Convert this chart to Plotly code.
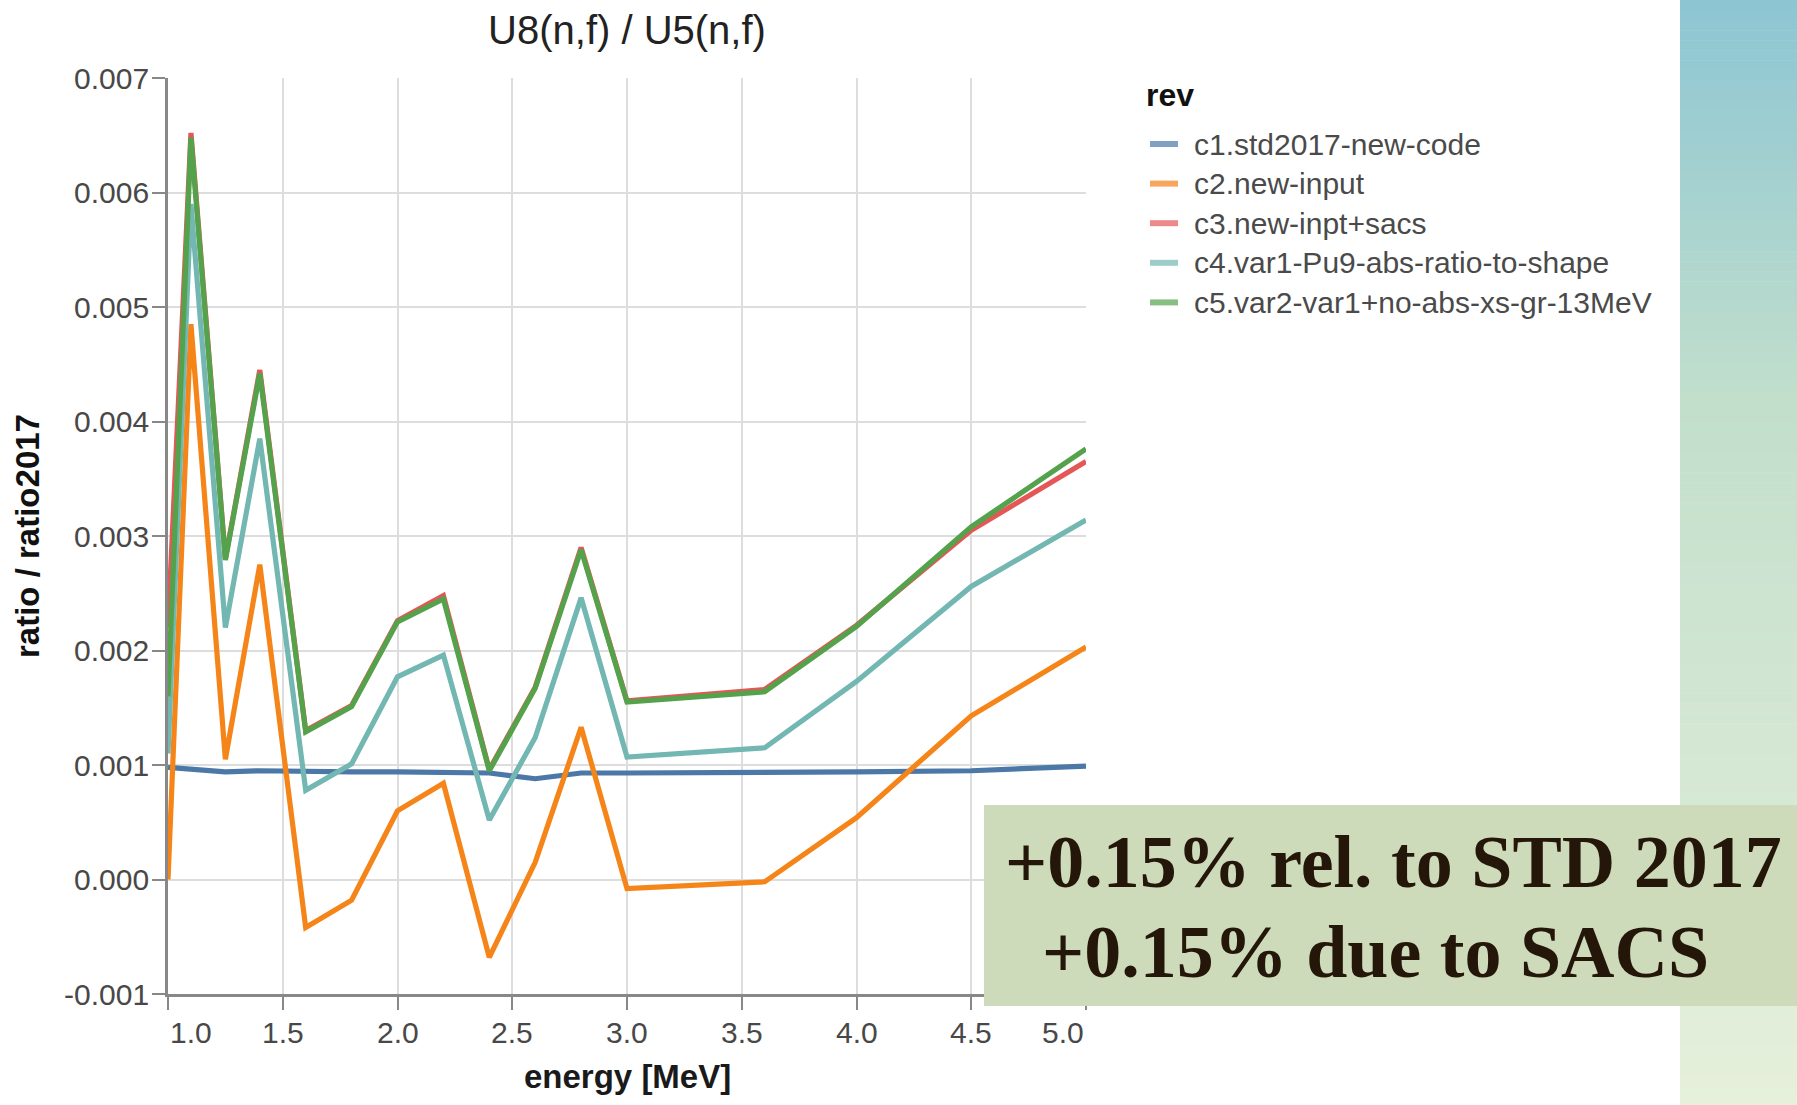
import plotly.graph_objects as go

# ---------------- data ----------------
energy = [1.0, 1.1, 1.25, 1.4, 1.6, 1.8, 2.0, 2.2, 2.4, 2.6, 2.8, 3.0, 3.6, 4.0, 4.5, 5.0]

series_names = [
    "c1.std2017-new-code",
    "c2.new-input",
    "c3.new-inpt+sacs",
    "c4.var1-Pu9-abs-ratio-to-shape",
    "c5.var2-var1+no-abs-xs-gr-13MeV",
]

c1_std2017 = [0.00098, 0.00096, 0.00094, 0.00095, 0.00094, 0.00094, 0.00094, 0.00094,
              0.00093, 0.00088, 0.00093, 0.00093, 0.00093, 0.00094, 0.00095, 0.00099]
c2_new_input = [0.00000, 0.00485, 0.00105, 0.00275, -0.00042, -0.00018, 0.00060, 0.00084,
                -0.00068, 0.00015, 0.00133, -0.00008, -0.00002, 0.00054, 0.00143, 0.00203]
c3_new_inpt_sacs = [0.00220, 0.00652, 0.00280, 0.00445, 0.00130, 0.00152, 0.00226, 0.00248,
                    0.00096, 0.00168, 0.00290, 0.00156, 0.00166, 0.00222, 0.00305, 0.00365]
c4_var1 = [0.00110, 0.00590, 0.00220, 0.00385, 0.00078, 0.00101, 0.00177, 0.00196,
           0.00052, 0.00124, 0.00246, 0.00107, 0.00115, 0.00173, 0.00256, 0.00314]
c5_var2 = [0.00160, 0.00648, 0.00279, 0.00442, 0.00129, 0.00151, 0.00225, 0.00245,
           0.00095, 0.00167, 0.00288, 0.00155, 0.00164, 0.00221, 0.00308, 0.00376]

series_values = [c1_std2017, c2_new_input, c3_new_inpt_sacs, c4_var1, c5_var2]

x_tick_vals = [1.0, 1.5, 2.0, 2.5, 3.0, 3.5, 4.0, 4.5, 5.0]
x_tick_labels = ["1.0", "1.5", "2.0", "2.5", "3.0", "3.5", "4.0", "4.5", "5.0"]
y_tick_vals = [-0.001, 0.0, 0.001, 0.002, 0.003, 0.004, 0.005, 0.006, 0.007]
y_tick_labels = ["-0.001", "0.000", "0.001", "0.002", "0.003", "0.004", "0.005", "0.006", "0.007"]

chart_title = "U8(n,f) / U5(n,f)"
x_title = "energy [MeV]"
y_title = "ratio / ratio2017"
legend_title = "rev"
note_lines = ["+0.15% rel. to STD 2017", "+0.15% due to SACS"]

# ---------------- style ----------------
line_colors = ["#4c78a8", "#f58518", "#e45756", "#72b7b2", "#54a24b"]
legend_colors = ["#82a0c2", "#f8a65d", "#ec8a89", "#9ccdc9", "#87be81"]
SANS = "Liberation Sans, Arial, sans-serif"
SERIF = "Liberation Serif, Times New Roman, serif"
TICK_FONT = dict(family=SANS, size=30, color="#484848")

W, H = 1797, 1105
L, R, T, B = 168, 711, 78, 111
PW, PH = W - L - R, H - T - B


def px_x(px):
    return (px - L) / PW


def px_y(py):
    return (H - B - py) / PH


fig = go.Figure()

for name, ys, col in zip(series_names, series_values, line_colors):
    fig.add_trace(go.Scatter(x=energy, y=ys, mode="lines", name=name,
                             line=dict(color=col, width=5.2), showlegend=False,
                             hoverinfo="x+y+name"))

fig.update_layout(
    width=W, height=H,
    margin=dict(l=L, r=R, t=T, b=B, pad=0),
    paper_bgcolor="white", plot_bgcolor="white",
    title=dict(text=chart_title, x=0.5, xref="paper", xanchor="center",
               y=1 - 30 / H, yref="container", yanchor="middle",
               font=dict(family=SANS, size=40, color="#222222")),
    xaxis=dict(range=[1.0, 5.0], tickvals=x_tick_vals, showticklabels=False,
               showgrid=True, gridcolor="#dddddd", gridwidth=2,
               showline=True, linecolor="#888888", linewidth=2.5,
               ticks="outside", ticklen=13, tickwidth=2, tickcolor="#888888",
               zeroline=False),
    yaxis=dict(range=[-0.001, 0.007], tickvals=y_tick_vals, showticklabels=False,
               showgrid=True, gridcolor="#dddddd", gridwidth=2,
               showline=True, linecolor="#888888", linewidth=2.5,
               ticks="outside", ticklen=13, tickwidth=2, tickcolor="#888888",
               zeroline=False),
    showlegend=False,
)

annotations = []
shapes = []
# y tick labels
for v, t in zip(y_tick_vals, y_tick_labels):
    annotations.append(dict(x=px_x(151), xref="paper", y=v, yref="y", text=t,
                            showarrow=False, xanchor="right", yanchor="middle", font=TICK_FONT))
# x tick labels (end labels flush to the axis ends)
for i, (v, t) in enumerate(zip(x_tick_vals, x_tick_labels)):
    anchor = "left" if i == 0 else ("right" if i == len(x_tick_vals) - 1 else "center")
    annotations.append(dict(x=v, xref="x", y=px_y(1032), yref="paper", text=t,
                            showarrow=False, xanchor=anchor, yanchor="middle", font=TICK_FONT))
# axis titles
annotations.append(dict(x=0.5, xref="paper", y=px_y(1076), yref="paper", text=x_title,
                        showarrow=False, xanchor="center", yanchor="middle",
                        font=dict(family=SANS, size=33, color="#1a1a1a", weight="bold")))
annotations.append(dict(x=px_x(27), xref="paper", y=0.5, yref="paper", text=y_title,
                        textangle=-90, showarrow=False, xanchor="center", yanchor="middle",
                        font=dict(family=SANS, size=33, color="#111111", weight="bold")))

# legend (title, symbols, labels)
annotations.append(dict(x=px_x(1144), xref="paper", y=px_y(95), yref="paper", text=legend_title,
                        showarrow=False, xanchor="left", yanchor="middle",
                        font=dict(family=SANS, size=32, color="#111111", weight="bold")))
LEG_Y0, LEG_DY = 144, 39.6
for i, (name, col) in enumerate(zip(series_names, legend_colors)):
    yc = LEG_Y0 + i * LEG_DY
    shapes.append(dict(type="line", xref="paper", yref="paper",
                       x0=px_x(1150), x1=px_x(1178), y0=px_y(yc), y1=px_y(yc),
                       line=dict(color=col, width=6)))
    annotations.append(dict(x=px_x(1192), xref="paper", y=px_y(yc), yref="paper", text=name,
                            showarrow=False, xanchor="left", yanchor="middle",
                            font=dict(family=SANS, size=30, color="#4a4a4a")))

# note text
annotations.append(dict(x=px_x(1003), xref="paper", y=px_y(862), yref="paper", text=note_lines[0],
                        showarrow=False, xanchor="left", yanchor="middle",
                        font=dict(family=SERIF, size=74, color="#24170a", weight="bold")))
annotations.append(dict(x=px_x(1040), xref="paper", y=px_y(952), yref="paper", text=note_lines[1],
                        showarrow=False, xanchor="left", yanchor="middle",
                        font=dict(family=SERIF, size=74, color="#24170a", weight="bold")))
fig.update_layout(annotations=annotations)

# ---------------- decorative slide elements ----------------


def hex_to_rgb(h):
    h = h.lstrip("#")
    return tuple(int(h[i:i + 2], 16) for i in (0, 2, 4))


stops = [(0, "#8cc5d3"), (400, "#c2dfcc"), (H, "#e6f0db")]
n_bands = 110
band_h = H / n_bands
for i in range(n_bands):
    y0 = i * band_h
    yc = y0 + band_h / 2
    for (a, ca), (b, cb) in zip(stops[:-1], stops[1:]):
        if a <= yc <= b:
            t = (yc - a) / (b - a)
            ra, rb = hex_to_rgb(ca), hex_to_rgb(cb)
            rgb = tuple(round(ra[k] + (rb[k] - ra[k]) * t) for k in range(3))
            break
    shapes.append(dict(type="rect", xref="paper", yref="paper",
                       x0=px_x(1680), x1=px_x(W + 2), y0=px_y(y0 + band_h + 0.6), y1=px_y(y0),
                       fillcolor="rgb(%d,%d,%d)" % rgb, line=dict(width=0), layer="above"))

shapes.append(dict(type="rect", xref="paper", yref="paper",
                   x0=px_x(984), x1=px_x(W + 2), y0=px_y(1006), y1=px_y(805),
                   fillcolor="#cedbba", line=dict(width=0), layer="above"))
fig.update_layout(shapes=shapes)

fig.write_html("out.html")
